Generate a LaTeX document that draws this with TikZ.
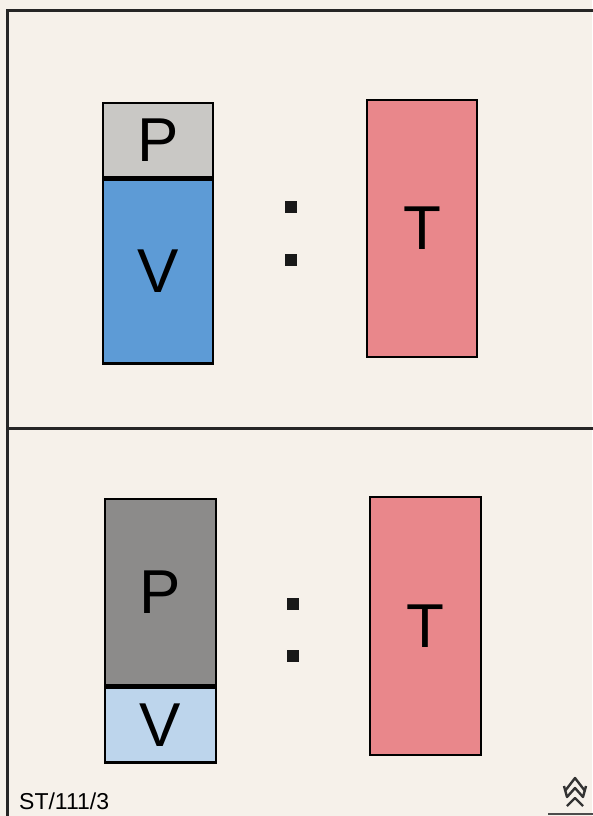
\documentclass[tikz,border=0pt]{standalone}
\usepackage{fontspec}
\setmainfont{Liberation Sans}
\usepackage{xcolor}
\usetikzlibrary{positioning}

\definecolor{paper}{HTML}{F6F1EA}
\definecolor{lightgray}{HTML}{C9C8C5}
\definecolor{darkgray}{HTML}{8C8B8A}
\definecolor{strongblue}{HTML}{5D9BD6}
\definecolor{paleblue}{HTML}{BDD5EC}
\definecolor{rosepink}{HTML}{E9878B}

\tikzset{
    part/.style={draw=black, line width=2.4pt, inner sep=0pt, minimum width=110pt,
        font=\fontsize{62}{62}\selectfont},
    ratiodot/.style={fill=black!90, inner sep=0pt, minimum size=12pt},
    frameline/.style={line width=3pt, black!85}
}

\begin{document}
\begin{tikzpicture}[x=1pt, y=-1pt]
    \useasboundingbox (0,0) rectangle (592,816);
    \fill[paper] (0,0) rectangle (592,816);
    \draw[frameline] (7,816) -- (7,11) -- (600,11);
    \draw[frameline] (7,428) -- (600,428);
    \draw[line width=2pt, black!70] (548,814) -- (600,814);

    % upper panel
    \node[part, fill=lightgray, minimum height=74pt] (pupper) at (158,140) {P};
    \node[part, fill=strongblue, minimum height=184pt, below=0pt of pupper] (vupper) {V};
    \node[part, fill=rosepink, minimum height=257pt] (tupper) at (422,228.5) {T};
    \node[ratiodot] (dotua) at (291,207) {};
    \node[ratiodot] (dotub) at (291,260) {};

    % lower panel
    \node[part, fill=darkgray, minimum width=111pt, minimum height=186pt] (plower) at (160.5,592) {P};
    \node[part, fill=paleblue, minimum width=111pt, minimum height=75pt, below=0pt of plower] (vlower) {V};
    \node[part, fill=rosepink, minimum width=111pt, minimum height=258pt] (tlower) at (425.5,626) {T};
    \node[ratiodot] (dotla) at (293,604) {};
    \node[ratiodot] (dotlb) at (293,656) {};

    % caption and mark
    \node[anchor=base west, inner sep=0pt, font=\fontsize{23}{23}\selectfont] (caption) at (19,809) {ST/111/3};
    \draw[line width=2.4pt, black!80, line join=round] (565,791) -- (575,778) -- (585,791);
    \draw[line width=2.4pt, black!80, line join=round] (564,786) -- (567,797) -- (575,788) -- (583,797) -- (586,786);
    \draw[line width=2.4pt, black!80, line join=round] (567,806) -- (575,798) -- (583,806);
\end{tikzpicture}
\end{document}
